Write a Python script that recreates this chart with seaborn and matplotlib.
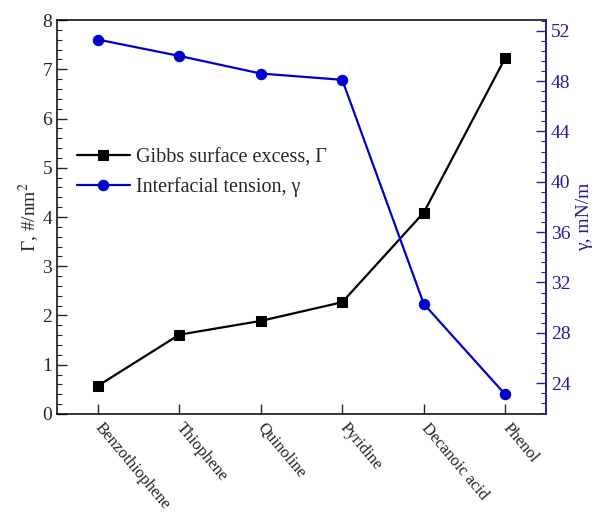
import matplotlib
matplotlib.use("Agg")
import matplotlib.pyplot as plt
from matplotlib.ticker import MultipleLocator
import pandas as pd
import seaborn as sns

# Surface/interfacial data for model oil compounds
compounds = ["Benzothiophene", "Thiophene", "Quinoline", "Pyridine",
             "Decanoic acid", "Phenol"]
gibbs_excess = [0.57, 1.61, 1.89, 2.27, 4.09, 7.23]        # Γ, #/nm²
interfacial_tension = [51.3, 50.0, 48.6, 48.1, 30.3, 23.1]  # γ, mN/m

df = pd.DataFrame({"compound": compounds,
                   "gamma_excess": gibbs_excess,
                   "tension": interfacial_tension})
df["pos"] = range(len(df))

sns.set_style("ticks")
plt.rcParams["font.family"] = ["Liberation Serif", "DejaVu Serif"]
plt.rcParams["mathtext.fontset"] = "stix"

BLUE = "#0000CC"
AXBLUE = "#1F1F9F"

fig = plt.figure(figsize=(6.11, 5.14), dpi=100)
ax = fig.add_axes([0.0933, 0.1946, 0.8003, 0.7664])
ax2 = ax.twinx()

sns.lineplot(data=df, x="pos", y="gamma_excess", ax=ax, sort=False,
             color="black", marker="s", markersize=6.5, linewidth=1.6,
             markeredgecolor="black", label="Gibbs surface excess, Γ",
             legend=False)
sns.lineplot(data=df, x="pos", y="tension", ax=ax2, sort=False,
             color=BLUE, marker="o", markersize=7.5, linewidth=1.6,
             markeredgecolor=BLUE, label="Interfacial tension, γ",
             legend=False)

# Left axis
ax.set_xlim(-0.5, len(compounds) - 0.5)
ax.set_ylim(0, 8)
ax.yaxis.set_major_locator(MultipleLocator(1))
ax.yaxis.set_minor_locator(MultipleLocator(0.2))
ax.set_xticks(df["pos"])
ax.set_xticklabels(compounds, rotation=-50, ha="left", va="center",
                   rotation_mode="anchor", fontsize=12)
ax.tick_params(axis="x", direction="in", length=7, width=1, pad=8,
               top=False)
ax.tick_params(axis="y", which="major", direction="in", length=7, width=1,
               labelsize=14, right=False)
ax.tick_params(axis="y", which="minor", direction="in", length=3.5,
               width=0.8, right=False)
ax.set_xlabel("")
ax.set_ylabel("Γ, #/nm$^{2}$", fontsize=14, labelpad=1)
for s in ax.spines.values():
    s.set_color("black")
    s.set_linewidth(1.1)

# Right axis
ax2.set_ylim(21.55, 52.85)
ax2.yaxis.set_major_locator(MultipleLocator(4))
ax2.yaxis.set_minor_locator(MultipleLocator(0.8))
ax2.set_yticks(range(24, 53, 4))
ax2.tick_params(axis="y", which="major", direction="in", length=7, width=1,
                colors=AXBLUE, labelsize=14, labelcolor=AXBLUE)
ax2.tick_params(axis="y", which="minor", direction="in", length=3.5,
                width=0.8, colors=AXBLUE)
ax2.set_ylabel("γ, mN/m", fontsize=14, color=AXBLUE, labelpad=4)
ax2.spines["right"].set_color(AXBLUE)
ax2.spines["right"].set_linewidth(1.1)
for side in ("left", "top", "bottom"):
    ax2.spines[side].set_visible(False)

# Combined legend
h1, l1 = ax.get_legend_handles_labels()
h2, l2 = ax2.get_legend_handles_labels()
ax2.legend(h1 + h2, l1 + l2, loc="center left",
           bbox_to_anchor=(0.025, 0.612), frameon=False, fontsize=14.5,
           handlelength=2.6, handletextpad=0.3, labelspacing=0.5,
           borderaxespad=0)

fig.savefig("out.png", dpi=100)
